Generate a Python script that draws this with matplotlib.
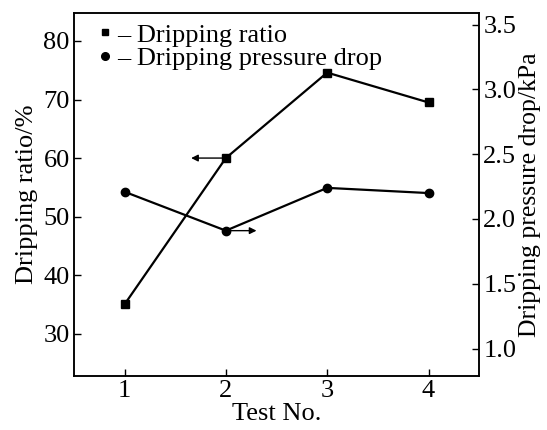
import matplotlib.pyplot as plt
from matplotlib.lines import Line2D

plt.rcParams['font.family'] = 'serif'
plt.rcParams['font.serif'] = ['Liberation Serif', 'DejaVu Serif']

# test numbers and the two measured quantities
test_no = [1, 2, 3, 4]
dripping_ratio = [35.0, 60.0, 74.6, 69.5]          # %
pressure_drop = [2.21, 1.91, 2.24, 2.20]           # kPa

left_ticks = [30, 40, 50, 60, 70, 80]
right_ticks = [1.0, 1.5, 2.0, 2.5, 3.0, 3.5]

fig = plt.figure(figsize=(5.47, 4.30), dpi=100)
ax1 = fig.add_axes([0.135, 0.126, 0.741, 0.844])
ax2 = ax1.twinx()

ax1.plot(test_no, dripping_ratio, color='black', lw=1.6, marker='s', ms=5.5)
ax2.plot(test_no, pressure_drop, color='black', lw=1.6, marker='o', ms=6)

ax1.set_xlim(0.5, 4.5)
ax1.set_ylim(22.8, 84.8)
ax2.set_ylim(0.79, 3.59)

ax1.set_xticks(test_no)
ax1.set_yticks(left_ticks)
ax2.set_yticks(right_ticks)
ax2.set_yticklabels([f'{t:.1f}' for t in right_ticks])

for a in (ax1, ax2):
    a.tick_params(direction='in', length=5, width=1, labelsize=19, pad=3)
    for s in a.spines.values():
        s.set_linewidth(1.1)

ax1.set_xlabel('Test No.', fontsize=19, labelpad=1)
ax1.set_ylabel('Dripping ratio/%', fontsize=19, labelpad=4)
ax2.set_ylabel('Dripping pressure drop/kPa', fontsize=18.5, labelpad=2)

# arrows telling which axis each curve belongs to
ax1.annotate('', xy=(1.63, 60), xytext=(2.0, 60),
             arrowprops=dict(arrowstyle='-|>', color='black', lw=1,
                             mutation_scale=10))
ax2.annotate('', xy=(2.33, 1.91), xytext=(2.0, 1.91),
             arrowprops=dict(arrowstyle='-|>', color='black', lw=1,
                             mutation_scale=10))

handles = [Line2D([], [], color='black', marker='s', ls='none', ms=5),
           Line2D([], [], color='black', marker='o', ls='none', ms=5.5)]
labels = ['\u2013 Dripping ratio', '\u2013 Dripping pressure drop']
ax1.legend(handles, labels, loc='upper left', frameon=False, fontsize=19,
           handlelength=0.6, handletextpad=0.15, labelspacing=0.0,
           borderaxespad=0.1, bbox_to_anchor=(0.025, 1.008))

fig.savefig('out.png', dpi=100)
